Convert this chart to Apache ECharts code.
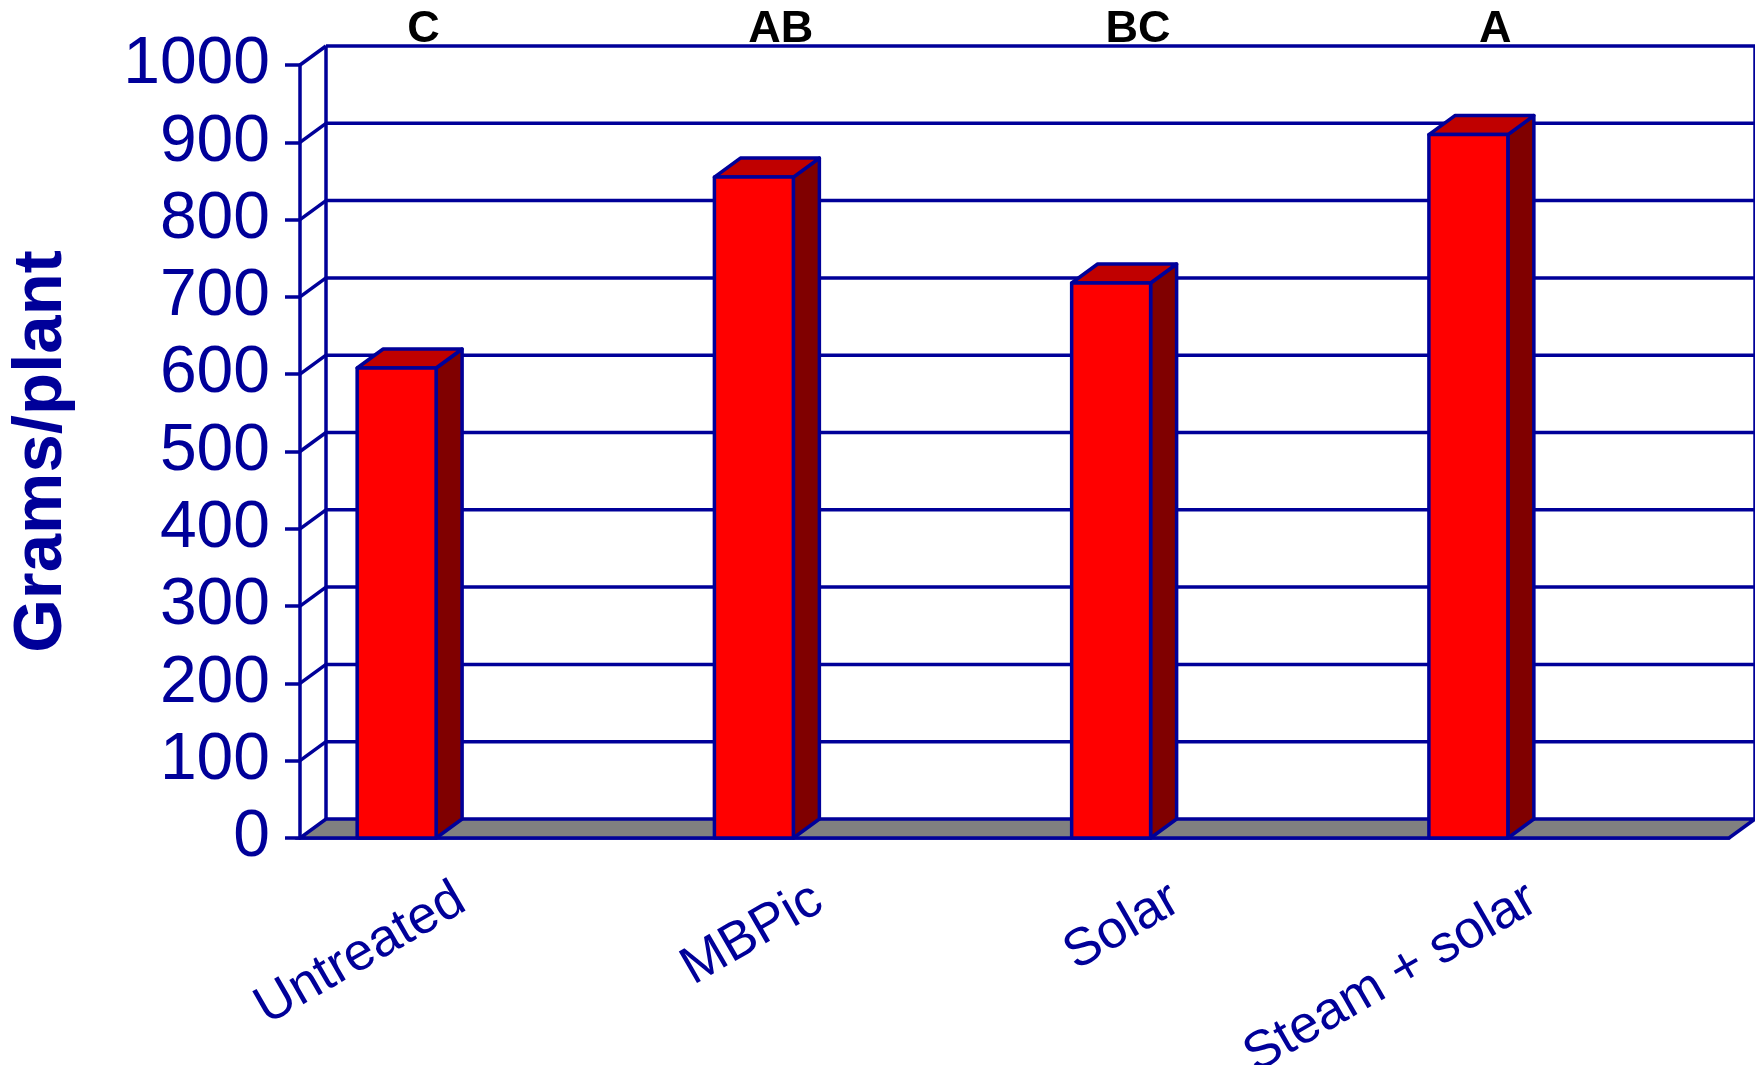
<!DOCTYPE html>
<html>
<head>
<meta charset="utf-8">
<script src="https://cdn.jsdelivr.net/npm/echarts@6/dist/echarts.min.js"></script>
<style>
  html, body { margin: 0; padding: 0; background: #fff; }
  #chart { width: 1755px; height: 1065px; }
</style>
</head>
<body>
<div id="chart"></div>
<script>
var categories = ['Untreated', 'MBPic', 'Solar', 'Steam + solar'];
var grams = [608, 855, 718, 910];
var letters = ['C', 'AB', 'BC', 'A'];
var ticks = [0, 100, 200, 300, 400, 500, 600, 700, 800, 900, 1000];

var navy = '#000099';
var font = "'Liberation Sans', Arial, sans-serif";
// 3D depth of the walls and bars, in pixels
var DX = 26, DY = 19;
var LW = 3.5;

var chart = echarts.init(document.getElementById('chart'));

// back wall, left side diagonals and grey floor
function renderFrame(params, api) {
  var cs = params.coordSys;
  var t = api.value(1);
  var y = api.coord([0, t])[1];
  var left = cs.x, right = cs.x + cs.width;
  var line = { stroke: navy, lineWidth: LW };
  var kids = [];
  if (t === 0) {
    kids.push({
      type: 'polygon',
      shape: { points: [[left, y], [right, y], [right + DX, y - DY], [left + DX, y - DY]] },
      style: { fill: '#808080', stroke: navy, lineWidth: LW }
    });
    var top = api.coord([0, ticks[ticks.length - 1]])[1];
    kids.push({ type: 'line', shape: { x1: left + DX, y1: y - DY, x2: left + DX, y2: top - DY }, style: line });
    kids.push({ type: 'line', shape: { x1: right + DX, y1: y - DY, x2: right + DX, y2: top - DY }, style: line });
  } else {
    kids.push({ type: 'line', shape: { x1: left, y1: y, x2: left + DX, y2: y - DY }, style: line });
    kids.push({ type: 'line', shape: { x1: left + DX, y1: y - DY, x2: right + DX, y2: y - DY }, style: line });
  }
  return { type: 'group', children: kids };
}

function renderBar(params, api) {
  var i = api.value(0);
  var v = api.value(1);
  var cw = api.size([1, 0])[0];
  var cx = api.coord([i, 0])[0];
  var y0 = api.coord([i, 0])[1];
  var y1 = api.coord([i, v])[1];
  var yMax = api.coord([i, ticks[ticks.length - 1]])[1];
  var x0 = cx - 0.340 * cw;
  var x1 = x0 + 0.221 * cw;
  var edge = { stroke: navy, lineWidth: LW, lineJoin: 'round' };
  return {
    type: 'group',
    children: [
      {
        type: 'polygon',
        shape: { points: [[x1, y0], [x1 + DX, y0 - DY], [x1 + DX, y1 - DY], [x1, y1]] },
        style: Object.assign({ fill: '#800000' }, edge)
      },
      {
        type: 'polygon',
        shape: { points: [[x0, y1], [x1, y1], [x1 + DX, y1 - DY], [x0 + DX, y1 - DY]] },
        style: Object.assign({ fill: '#C00000' }, edge)
      },
      {
        type: 'rect',
        shape: { x: x0, y: y1, width: x1 - x0, height: y0 - y1 },
        style: Object.assign({ fill: '#FF0000' }, edge)
      },
      {
        type: 'text',
        x: cx - 0.154 * cw,
        y: yMax - DY - 16,
        style: {
          text: letters[i],
          fill: '#000',
          font: 'bold 45px ' + font,
          align: 'center',
          verticalAlign: 'middle'
        }
      }
    ]
  };
}

var option = {
  animation: false,
  backgroundColor: '#fff',
  grid: { left: 300, right: 26, top: 65, bottom: 227, containLabel: false, outerBoundsMode: 'none' },
  xAxis: {
    type: 'category',
    data: categories,
    axisLine: { lineStyle: { color: navy, width: LW } },
    axisTick: { length: 14, lineStyle: { color: navy, width: LW } },
    axisLabel: {
      rotate: 30,
      margin: 48,
      padding: [0, 20, 0, 0],
      color: navy,
      fontSize: 53,
      fontFamily: font
    },
    splitLine: { show: false }
  },
  yAxis: {
    type: 'value',
    min: 0,
    max: 1000,
    interval: 100,
    name: 'Grams/plant',
    nameLocation: 'middle',
    nameGap: 224,
    nameTextStyle: { color: navy, fontSize: 69, fontWeight: 'bold', fontFamily: font },
    axisLine: { show: true, lineStyle: { color: navy, width: LW } },
    axisTick: { show: true, length: 15, lineStyle: { color: navy, width: LW } },
    axisLabel: {
      margin: 30,
      color: navy,
      fontSize: 66,
      fontFamily: font,
      formatter: function (v) { return String(v); }
    },
    splitLine: { show: false }
  },
  series: [
    {
      type: 'custom',
      renderItem: renderFrame,
      data: ticks.map(function (t) { return [0, t]; }),
      encode: { x: 0, y: 1 },
      z: 1,
      silent: true
    },
    {
      type: 'custom',
      renderItem: renderBar,
      data: grams.map(function (g, i) { return [i, g]; }),
      encode: { x: 0, y: 1 },
      z: 3,
      silent: true
    }
  ]
};

chart.setOption(option);
</script>
</body>
</html>
